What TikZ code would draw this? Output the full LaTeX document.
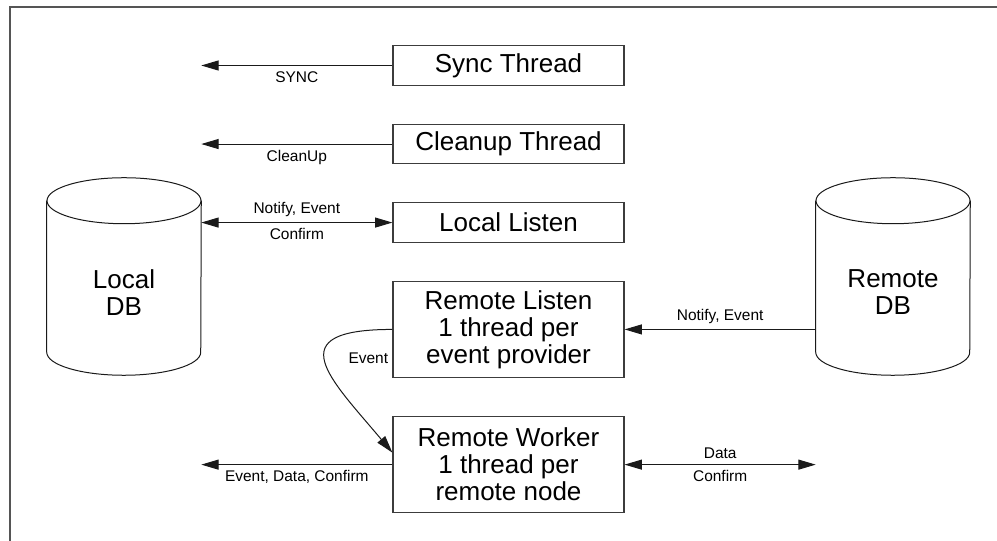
\documentclass[tikz,border=0pt]{standalone}
\usepackage{fontspec}
\setmainfont{Liberation Sans}
\usepackage{xcolor}
\definecolor{rsline}{HTML}{1A1A1A}
\definecolor{rsbox}{HTML}{3C3C3C}
\definecolor{rsframe}{HTML}{555555}
\usetikzlibrary{arrows.meta,positioning,calc}
\newcommand{\bigtxt}{\fontsize{19.5pt}{20.25pt}\selectfont}
\newcommand{\smalltxt}{\fontsize{11.6pt}{13pt}\selectfont}

\begin{document}
\begin{tikzpicture}[x=0.75pt,y=-0.75pt,node distance=28.5pt,>={Triangle[length=13pt,width=7.5pt]}]
\tikzset{
 box/.style={draw=rsbox,line width=0.9pt,minimum width=173.25pt,minimum height=29.5pt,align=center,font=\bigtxt,inner sep=2pt},
 tallbox/.style={box,minimum height=72pt},
 dbbody/.style={minimum width=115.5pt,minimum height=113.25pt,inner sep=0pt},
 dbline/.style={draw=rsline,line width=0.75pt},
 dbtext/.style={align=center,font=\bigtxt},
 arrow/.style={->,line width=0.75pt,draw=rsline},
 lbl/.style={font=\smalltxt,inner sep=3pt}
}
\useasboundingbox (0,0) rectangle (997,541);
\draw[rsframe,line width=1.5pt] (9.5,541) -- (9.5,7) -- (997,7);

% thread boxes
\node[box] (sync) at (508.5,65.5) {Sync Thread};
\node[box,below=of sync] (cleanup) {Cleanup Thread};
\node[box,below=of cleanup] (llisten) {Local Listen};
\node[tallbox,below=of llisten] (rlisten) {Remote Listen\\1 thread per\\event provider};
\node[tallbox,below=of rlisten] (rworker) {Remote Worker\\1 thread per\\remote node};

% databases
\node[dbbody] (ldb) at (124,276.5) {};
\node[dbbody] (rdb) at (893,276.5) {};
\foreach \db in {ldb,rdb}{
 \draw[dbline] (\db.north west) -- (\db.south west) arc[start angle=180,end angle=360,x radius=57.75pt,y radius=17.25pt] -- (\db.north east);
 \draw[dbline] (\db.north) ellipse[x radius=57.75pt,y radius=17.25pt];
}
\node[dbtext] (ldbtxt) at ($(ldb)+(0,16)$) {Local\\DB};
\node[dbtext] (rdbtxt) at ($(rdb)+(0,16)$) {Remote\\DB};

% messages
\draw[arrow] (sync.west) -- node[lbl,below=1pt] (synclbl) {SYNC} (sync.west -| ldb.east);
\draw[arrow] (cleanup.west) -- node[lbl,below=1pt] (cleanlbl) {CleanUp} (cleanup.west -| ldb.east);
\draw[arrow,<->] (llisten.west -| ldb.east) -- node[lbl,above=1pt] (llnotify) {Notify, Event} node[lbl,below=1pt] (llconfirm) {Confirm} (llisten.west);
\draw[arrow] (rlisten.east -| rdb.west) -- node[lbl,above=1pt] (rlnotify) {Notify, Event} (rlisten.east);
\coordinate (rwin) at ($(rworker.west)+(0,-12)$);
\draw[arrow] (rlisten.west) to[out=180,in=130,out looseness=2.4,in looseness=2] (rwin);
\node[lbl,anchor=east] (evlbl) at ($(rlisten.west)+(0,29)$) {Event};
\draw[arrow] (rworker.west) -- node[lbl,below=1pt] (rwout) {Event, Data, Confirm} (rworker.west -| ldb.east);
\draw[arrow,<->] (rworker.east) -- node[lbl,above=1pt] (rwdata) {Data} node[lbl,below=1pt] (rwconfirm) {Confirm} (rworker.east -| rdb.west);
\end{tikzpicture}
\end{document}
